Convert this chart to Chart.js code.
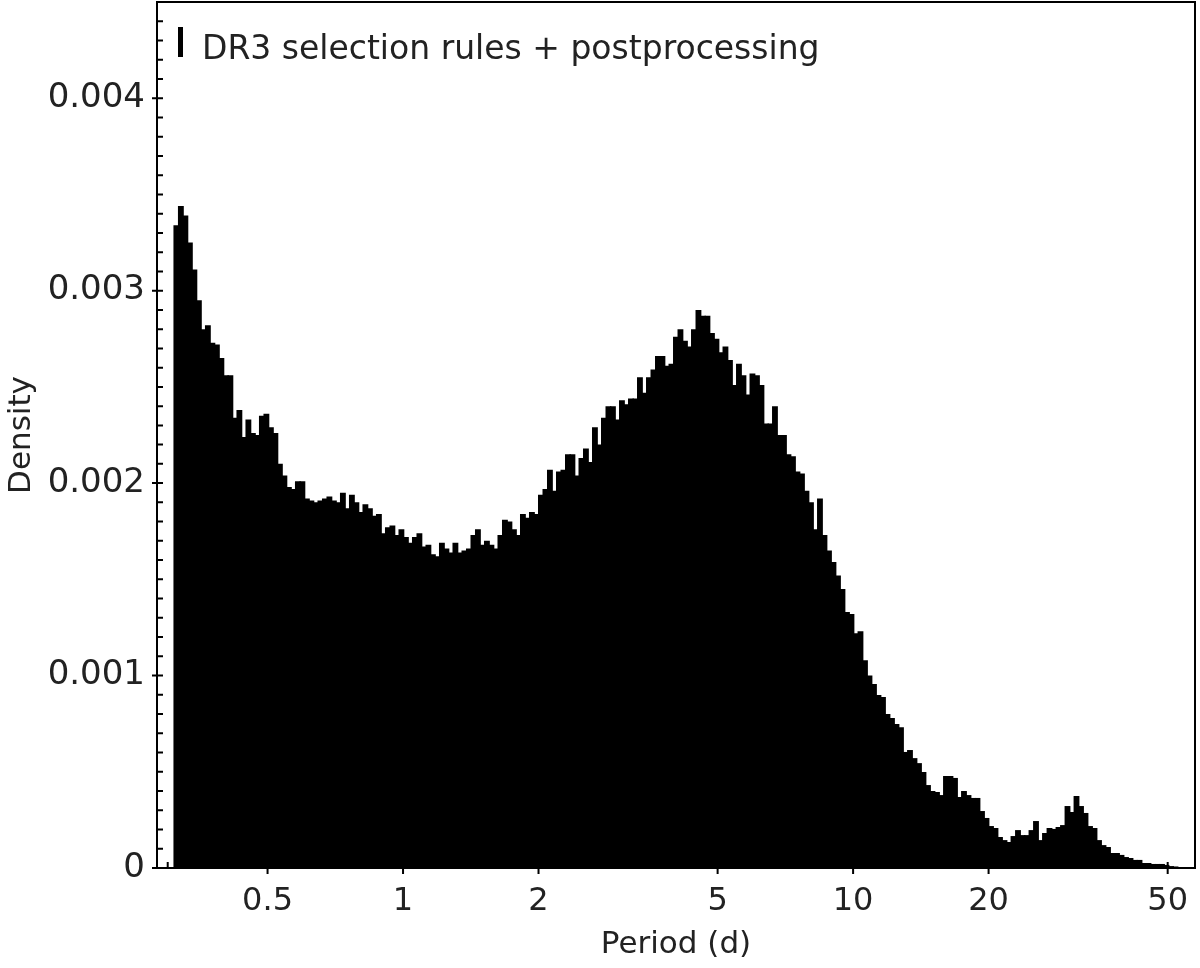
<!DOCTYPE html>
<html>
<head>
<meta charset="utf-8">
<title>DR3 period distribution</title>
<script src="https://cdn.jsdelivr.net/npm/chart.js@4.4.1/dist/chart.umd.min.js"></script>
<style>
  html, body { margin: 0; padding: 0; background: #fff; }
  #wrap { width: 1200px; height: 968px; }
</style>
</head>
<body>
<div id="wrap"><canvas id="myChart" width="1200" height="968"></canvas></div>
<script>
// histogram bins: log spaced, 100 bins per decade, first edge at 0.31 d
var firstEdge = 0.31;
var binsPerDecade = 100;

// density per bin
var density = [
  0.00334, 0.00344, 0.00339, 0.00325, 0.00311, 0.00295, 0.00280, 0.00282, 0.00273, 0.00272,
  0.00265, 0.00256, 0.00256, 0.00234, 0.00238, 0.00224, 0.00233, 0.00226, 0.00225, 0.00235,
  0.00236, 0.00229, 0.00226, 0.00210, 0.00204, 0.00198, 0.00197, 0.00201, 0.00201, 0.00192,
  0.00191, 0.00190, 0.00191, 0.00192, 0.00193, 0.00191, 0.00190, 0.00195, 0.00187, 0.00194,
  0.00190, 0.00185, 0.00189, 0.00187, 0.00183, 0.00184, 0.00174, 0.00177, 0.00178, 0.00173,
  0.00176, 0.00172, 0.00169, 0.00172, 0.00174, 0.00167, 0.00168, 0.00163, 0.00162, 0.00169,
  0.00166, 0.00164, 0.00169, 0.00164, 0.00165, 0.00166, 0.00173, 0.00176, 0.00168, 0.00170,
  0.00168, 0.00166, 0.00173, 0.00181, 0.00180, 0.00176, 0.00173, 0.00184, 0.00182, 0.00185,
  0.00184, 0.00194, 0.00197, 0.00207, 0.00196, 0.00206, 0.00207, 0.00215, 0.00215, 0.00204,
  0.00213, 0.00218, 0.00211, 0.00229, 0.00220, 0.00234, 0.00240, 0.00240, 0.00233, 0.00243,
  0.00241, 0.00244, 0.00244, 0.00255, 0.00247, 0.00255, 0.00259, 0.00266, 0.00266, 0.00261,
  0.00262, 0.00276, 0.00280, 0.00274, 0.00271, 0.00280, 0.00290, 0.00287, 0.00287, 0.00278,
  0.00275, 0.00268, 0.00271, 0.00264, 0.00251, 0.00262, 0.00256, 0.00246, 0.00257, 0.00256,
  0.00251, 0.00231, 0.00231, 0.00240, 0.00225, 0.00225, 0.00215, 0.00214, 0.00206, 0.00205,
  0.00196, 0.00190, 0.00176, 0.00192, 0.00173, 0.00165, 0.00159, 0.00152, 0.00145, 0.00133,
  0.00132, 0.00122, 0.00123, 0.00108, 0.00100, 0.000956, 0.000899, 0.000888, 0.000800, 0.000779,
  0.000748, 0.000732, 0.000603, 0.000613, 0.000571, 0.000545, 0.000499, 0.000431, 0.000400, 0.000395,
  0.000379, 0.000478, 0.000478, 0.000468, 0.000369, 0.000400, 0.000379, 0.000364, 0.000364, 0.000296,
  0.000260, 0.000218, 0.000208, 0.000161, 0.000145, 0.000135, 0.000166, 0.000197, 0.000171, 0.000171,
  0.000197, 0.000244, 0.000145, 0.000182, 0.000208, 0.000203, 0.000213, 0.000223, 0.000322, 0.000291,
  0.000374, 0.000322, 0.000286, 0.000218, 0.000208, 0.000145, 0.000119, 0.000109, 0.000078, 0.000078,
  0.000068, 0.000057, 0.000052, 0.000042, 0.000042, 0.000026, 0.000026, 0.000021, 0.000021, 0.000021,
  0.000016, 0.000010, 0.000008
];

var periodTicks = [0.5, 1, 2, 5, 10, 20, 50];
var periodMinorTicks = [0.3, 0.4, 0.6, 0.7, 0.8, 0.9, 3, 4, 6, 7, 8, 9, 30, 40];
var densityTicks = [0, 0.001, 0.002, 0.003, 0.004];
var seriesLabel = 'DR3 selection rules + postprocessing';

// bar centres at the middle of each log bin
var points = density.map(function (d, i) {
  return { x: firstEdge * Math.pow(10, (i + 0.5) / binsPerDecade), y: d };
});

Chart.defaults.font.family = '"DejaVu Sans", sans-serif';
Chart.defaults.color = '#222';

// box round the plot, inward ticks, legend in the corner
var frameAndTicks = {
  id: 'frameAndTicks',
  afterDraw: function (chart) {
    var ctx = chart.ctx;
    var area = chart.chartArea;
    var xs = chart.scales.x;
    var ys = chart.scales.y;
    ctx.save();
    ctx.strokeStyle = '#000';
    ctx.lineWidth = 2;
    ctx.strokeRect(area.left, area.top, area.right - area.left, area.bottom - area.top);

    ctx.beginPath();
    for (var i = 0; i * 0.0001 <= ys.max + 1e-9; i++) {
      var py = ys.getPixelForValue(i / 10000);
      var major = i % 10 === 0;
      ctx.moveTo(area.left - (major ? 5 : 0), py);
      ctx.lineTo(area.left + 6, py);
    }
    periodTicks.forEach(function (v) {
      var px = xs.getPixelForValue(v);
      ctx.moveTo(px, area.bottom + 6);
      ctx.lineTo(px, area.bottom - 6);
    });
    periodMinorTicks.forEach(function (v) {
      var px = xs.getPixelForValue(v);
      ctx.moveTo(px, area.bottom);
      ctx.lineTo(px, area.bottom - 6);
    });
    ctx.stroke();

    // legend
    var ds = chart.data.datasets[0];
    ctx.fillStyle = ds.backgroundColor;
    ctx.fillRect(area.left + 21, area.top + 25, 5, 30);
    ctx.fillStyle = '#222';
    ctx.font = '33px "DejaVu Sans", sans-serif';
    ctx.textBaseline = 'middle';
    ctx.textAlign = 'left';
    ctx.fillText(ds.label, area.left + 45, area.top + 48);
    ctx.restore();
  }
};

var chartBlock = document.getElementById('myChart');
var myChart = new Chart(chartBlock, {
  type: 'bar',
  data: {
    datasets: [{
      label: seriesLabel,
      data: points,
      backgroundColor: '#000',
      borderWidth: 0,
      barPercentage: 1.3,
      categoryPercentage: 1
    }]
  },
  options: {
    responsive: false,
    animation: false,
    devicePixelRatio: 1,
    layout: { padding: { top: 2, right: 5, left: 0, bottom: 0 } },
    plugins: {
      legend: { display: false },
      tooltip: { enabled: false }
    },
    scales: {
      x: {
        type: 'logarithmic',
        min: 0.284,
        max: 57.5,
        grid: { display: false, drawTicks: false },
        border: { display: false },
        afterBuildTicks: function (scale) {
          scale.ticks = periodTicks.map(function (v) { return { value: v }; });
        },
        afterFit: function (scale) {
          scale.height = 100;
          scale.paddingLeft = 0;
          scale.paddingRight = 0;
        },
        ticks: {
          autoSkip: false,
          maxRotation: 0,
          padding: 14,
          font: { size: 32 },
          callback: function (v) { return String(v); }
        },
        title: {
          display: true,
          text: 'Period (d)',
          font: { size: 31 },
          padding: { top: 0, bottom: 4 }
        }
      },
      y: {
        min: 0,
        max: 0.0045,
        grid: { display: false, drawTicks: false },
        border: { display: false },
        afterBuildTicks: function (scale) {
          scale.ticks = densityTicks.map(function (v) { return { value: v }; });
        },
        afterFit: function (scale) {
          scale.width = 157;
          scale.paddingTop = 0;
          scale.paddingBottom = 0;
        },
        ticks: {
          autoSkip: false,
          padding: 12,
          font: { size: 34 },
          callback: function (v) { return v === 0 ? '0' : v.toFixed(3); }
        },
        title: {
          display: true,
          text: 'Density',
          font: { size: 31 },
          padding: { top: 3, bottom: 0 }
        }
      }
    }
  },
  plugins: [frameAndTicks]
});
</script>
</body>
</html>
